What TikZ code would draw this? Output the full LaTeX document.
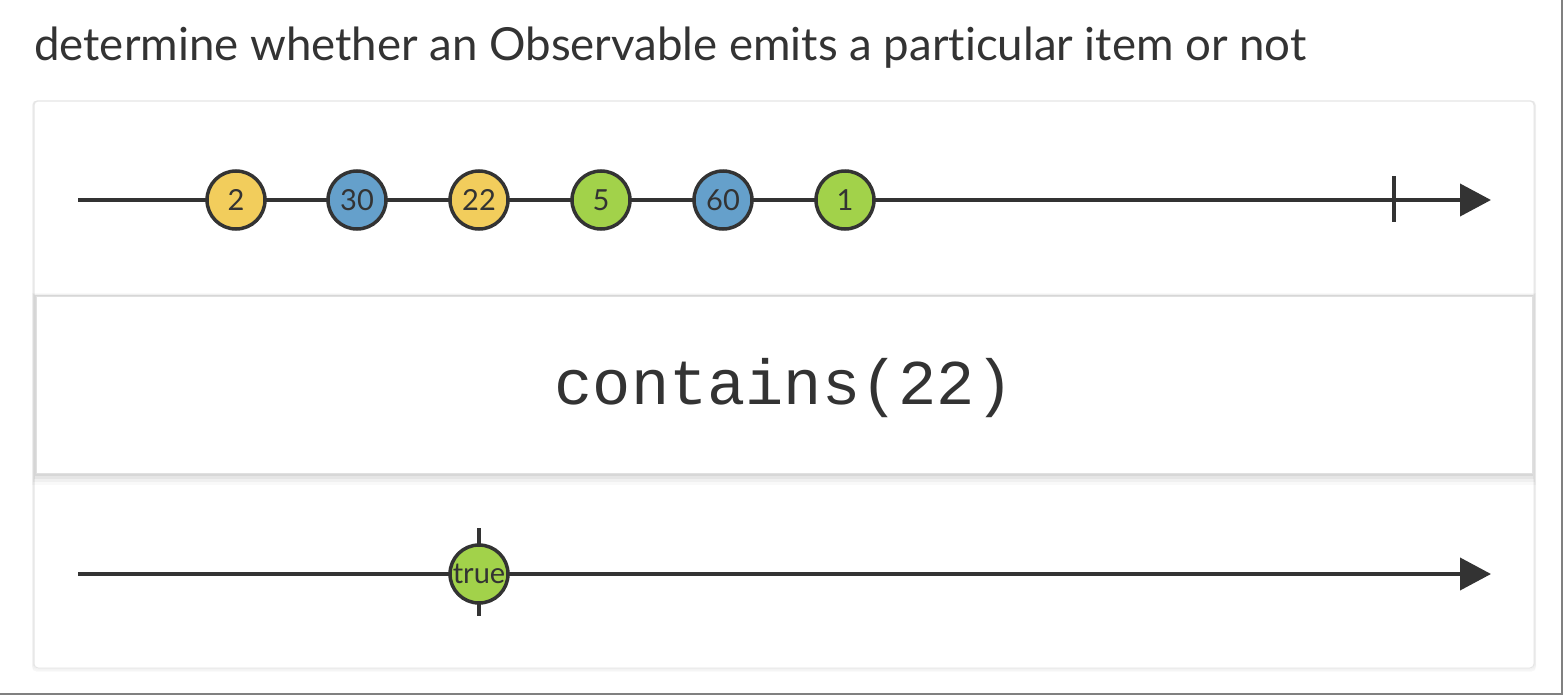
\documentclass[tikz,border=0pt]{standalone}
\usepackage{fontspec}
\setmainfont{Lato}[Ligatures={NoCommon}]
\setmonofont{Liberation Mono}
\usetikzlibrary{arrows.meta}
\definecolor{ink}{HTML}{333333}
\definecolor{myyellow}{HTML}{F2CD5C}
\definecolor{myblue}{HTML}{65A0CB}
\definecolor{mygreen}{HTML}{A2D24A}
\begin{document}
\begin{tikzpicture}[x=1pt,y=-1pt,
 marble/.style={circle, draw=ink, line width=3.5pt, minimum size=58pt, inner sep=0pt, font=\fontsize{29}{29}\selectfont, text=ink},
 timeline/.style={draw=ink, line width=4pt, -{Triangle[length=31pt,width=32pt]}},
 tickmark/.style={draw=ink, line width=4pt},
 titletext/.style={anchor=base west, font=\fontsize{45.6}{45.6}\selectfont, text=ink, inner sep=0pt},
 optext/.style={font=\ttfamily\fontsize{63.7}{63.7}\selectfont, text=ink}]
\useasboundingbox (0,0) rectangle (1564,696);
\fill[white] (0,0) rectangle (1564,696);
\draw[black!50, line width=1.5pt] (0,694) -- (1562,694) -- (1562,0);
% title
\node[titletext] (title) at (34,60) {determine whether an Observable emits a particular item or not};
% card
\foreach \i/\o in {3/0.03,2/0.04,1/0.05}
  \draw[rounded corners=4pt, black, opacity=\o, line width=1pt] (34-\i/2,101) rectangle (1534+\i/2,668+\i);
\draw[rounded corners=4pt, draw=black!10, fill=white, line width=1pt] (34,101) rectangle (1534,668);
% top timeline
\coordinate (s1) at (78,200);
\coordinate (e1) at (1491,200);
\draw[timeline] (s1) -- (e1);
\coordinate (c1) at (1394,176);
\coordinate (c2) at (1394,222);
\draw[tickmark] (c1) -- (c2);
\node[marble, fill=myyellow] (m1) at (236,200) {2};
\node[marble, fill=myblue]   (m2) at (357,200) {30};
\node[marble, fill=myyellow] (m3) at (479,200) {22};
\node[marble, fill=mygreen]  (m4) at (601,200) {5};
\node[marble, fill=myblue]   (m5) at (723,200) {60};
\node[marble, fill=mygreen]  (m6) at (845,200) {1};
% operator box with shadow
\foreach \i/\o in {12/0.025,9/0.035,6/0.045,3/0.06}
  \fill[black, opacity=\o] (36-\i/3,296-\i/4) rectangle (1532+\i/3,473+\i);
\draw[draw=black!12, fill=white, line width=1pt] (36,296) rectangle (1532,473);
\node[optext] (op) at (784,388) {contains(22)};
% bottom timeline
\coordinate (s2) at (78,574);
\coordinate (e2) at (1491,574);
\draw[timeline] (s2) -- (e2);
\coordinate (t1) at (479,528);
\coordinate (t2) at (479,616);
\draw[tickmark] (t1) -- (t2);
\node[marble, fill=mygreen] (r1) at (479,574) {true};
\end{tikzpicture}
\end{document}
